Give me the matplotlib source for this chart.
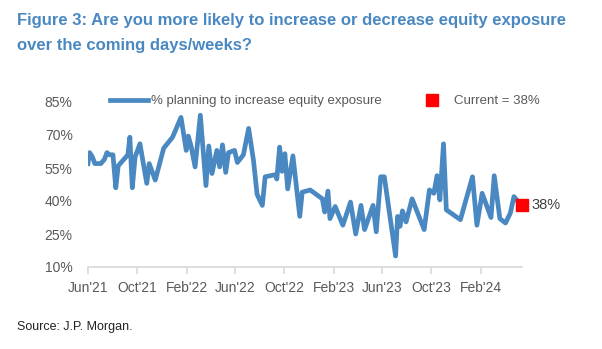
import matplotlib.pyplot as plt
import matplotlib.dates as mdates
import pandas as pd

# survey readings: % planning to increase equity exposure
dates = ['2021-06-01', '2021-06-05', '2021-06-12', '2021-06-18', '2021-07-03', '2021-07-12',
         '2021-07-18', '2021-07-25', '2021-08-02', '2021-08-09', '2021-08-15', '2021-09-08',
         '2021-09-13', '2021-09-19', '2021-09-26', '2021-10-08', '2021-10-25', '2021-10-31',
         '2021-11-15', '2021-12-06', '2021-12-28', '2022-01-18', '2022-01-31', '2022-02-05',
         '2022-02-12', '2022-02-22', '2022-03-07', '2022-03-21', '2022-03-28', '2022-04-05',
         '2022-04-17', '2022-04-24', '2022-05-01', '2022-05-09', '2022-05-16', '2022-05-31',
         '2022-06-07', '2022-06-22', '2022-07-05', '2022-07-17', '2022-07-26', '2022-08-08',
         '2022-08-15', '2022-09-10', '2022-09-13', '2022-09-20', '2022-09-26', '2022-10-03',
         '2022-10-10', '2022-10-23', '2022-11-09', '2022-11-15', '2022-12-05', '2023-01-04',
         '2023-01-10', '2023-01-18', '2023-01-23', '2023-02-05', '2023-02-24', '2023-03-15',
         '2023-03-28', '2023-04-10', '2023-04-19', '2023-05-10', '2023-05-18', '2023-05-29',
         '2023-06-07', '2023-07-05', '2023-07-10', '2023-07-16', '2023-07-22', '2023-07-31',
         '2023-08-15', '2023-09-14', '2023-09-27', '2023-10-08', '2023-10-16', '2023-10-23',
         '2023-11-01', '2023-11-08', '2023-12-13', '2024-01-12', '2024-01-23', '2024-02-05',
         '2024-02-27', '2024-03-06', '2024-03-20', '2024-04-03', '2024-04-15', '2024-04-24',
         '2024-05-03', '2024-05-14']
values = [57, 62, 60, 57, 57, 59,
          62, 61, 61, 46, 56, 61,
          69, 46, 60, 66, 48, 57,
          49.5, 64, 69, 78, 63, 69.5,
          65, 55.5, 79, 47, 65, 52.5,
          63, 55.5, 65.5, 53, 62, 63,
          57.5, 61, 73, 58.5, 43, 38,
          51, 52, 50, 64.5, 53.5, 61.5,
          45.5, 60.5, 33, 44, 45, 41,
          35, 44.5, 32, 37.5, 29, 39.5,
          25, 38, 27, 38, 26, 51,
          51, 15, 33, 28.5, 35.5, 30.5,
          41, 27, 45, 43.5, 51.5, 40.5,
          66, 36, 31.5, 51, 29, 43.5,
          32.5, 51.5, 32, 30, 34.5, 42,
          40, 38]
current = 38

yticks = [10, 25, 40, 55, 70, 85]
xtick_dates = ['2021-06-01', '2021-10-01', '2022-02-01', '2022-06-01', '2022-10-01',
               '2023-02-01', '2023-06-01', '2023-10-01', '2024-02-01']

dates = pd.to_datetime(dates)
blue = '#4a88c2'
grey = '#595959'
plt.rcParams['font.family'] = ['Liberation Sans', 'DejaVu Sans']

fig = plt.figure(figsize=(6.02, 3.49), dpi=100)
ax = fig.add_axes([88 / 602, 82 / 349, 434 / 602, 165 / 349])

ax.plot(dates, values, color=blue, lw=3.4, solid_joinstyle='round',
        label='% planning to increase equity exposure')
ax.plot(dates[-1:], [current], 's', color='#ff0000', ms=8.5,
        label='Current = %d%%' % current, clip_on=False, zorder=5)
ax.annotate('%d%%' % current, (dates[-1], current), xytext=(6.5, 0),
            textcoords='offset points', va='center', ha='left',
            fontsize=10.5, color='#404040')

ax.set_ylim(10, 85)
ax.set_yticks(yticks)
ax.set_yticklabels(['%d%%' % t for t in yticks])
ax.set_xlim(pd.Timestamp('2021-06-01'), pd.Timestamp('2024-05-14'))
ax.set_xticks(pd.to_datetime(xtick_dates))
ax.xaxis.set_major_formatter(mdates.DateFormatter("%b'%y"))

for s in ['top', 'right', 'left']:
    ax.spines[s].set_visible(False)
ax.spines['bottom'].set_color('#d9d9d9')
ax.spines['bottom'].set_linewidth(1.2)
ax.tick_params(axis='y', length=0, pad=11, labelsize=10, labelcolor=grey)
ax.tick_params(axis='x', length=5, color='#d9d9d9', width=1.2, pad=5,
               labelsize=10, labelcolor=grey)

leg = ax.legend(loc='lower left', bbox_to_anchor=(0.038, 0.935), ncol=2, frameon=False,
                fontsize=9.5, handlelength=2.9, handletextpad=0.25, columnspacing=2.3,
                borderaxespad=0)
for t in leg.get_texts():
    t.set_color(grey)

fig.text(17 / 602, 1 - 13.5 / 349, 'Figure 3: Are you more likely to increase or decrease equity exposure\n'
         'over the coming days/weeks?', fontsize=12, fontweight='bold', color=blue,
         va='top', ha='left', linespacing=1.78)
fig.text(17 / 602, 1 - 327 / 349, 'Source: J.P. Morgan.', fontsize=9, color='#222222',
         va='center', ha='left')

fig.savefig('out.png', dpi=100)
